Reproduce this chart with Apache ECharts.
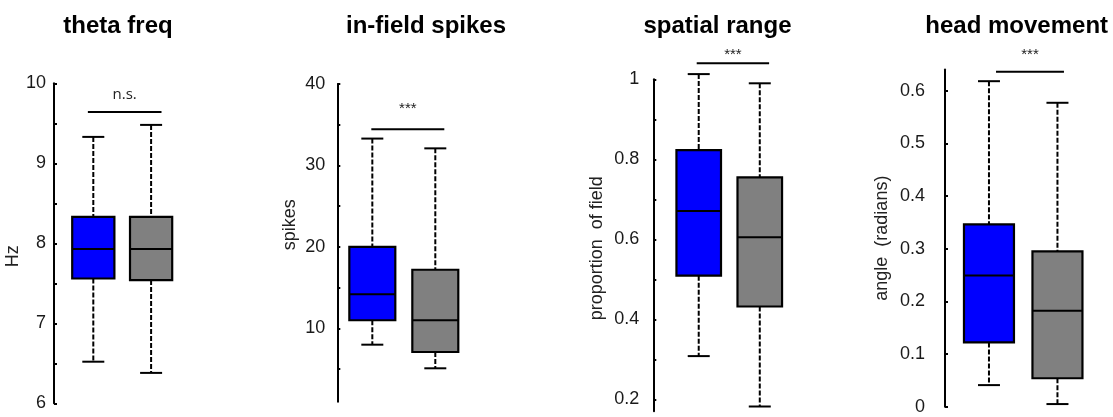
<!DOCTYPE html>
<html><head><meta charset="utf-8">
<script src="https://cdn.jsdelivr.net/npm/echarts@6/dist/echarts.min.js"></script>
<style>html,body{margin:0;padding:0;background:#fff}#c{width:1113px;height:417px}</style>
</head><body><div id="c"></div>
<script>
// ---------- data ----------
const titles = ['theta freq', 'in-field spikes', 'spatial range', 'head movement'];
const yNames = ['Hz', 'spikes', 'proportion  of field', 'angle  (radians)'];
const groupPos = [1, 2];
// [lower whisker, Q1, median, Q3, upper whisker] : group 1 (blue), group 2 (gray)
const thetaFreq     = [[6.52, 7.56, 7.93, 8.33, 9.33], [6.38, 7.54, 7.93, 8.33, 9.48]];
const inFieldSpikes = [[8.0, 11.0, 14.2, 20.0, 33.3], [5.1, 7.1, 11.0, 17.2, 32.1]];
const spatialRange  = [[0.308, 0.509, 0.671, 0.823, 1.013], [0.182, 0.432, 0.605, 0.755, 0.99]];
const headMovement  = [[0.041, 0.122, 0.249, 0.346, 0.618], [0.005, 0.054, 0.182, 0.295, 0.577]];
const sigLabels = ['n.s.', '***', '***', '***'];
const sigLineY  = [9.64, 34.44, 1.04, 0.636];
const sigLabelY = [9.854, 37.3, 1.069, 0.674];
const sigLineX  = [[0.906, 2.18], [0.984, 2.143], [0.967, 2.153], [1.103, 2.095]];
const yMin = [6, 1, 0.17, 0];
const yMax = [10, 40, 1, 0.64];
const yLabelValues = [[6, 7, 8, 9, 10], [10, 20, 30, 40], [0.2, 0.4, 0.6, 0.8, 1], [0, 0.1, 0.2, 0.3, 0.4, 0.5, 0.6]];
const yTickValues = [
  [6, 6.5, 7, 7.5, 8, 8.5, 9, 9.5, 10],
  [5, 10, 15, 20, 25, 30, 35, 40],
  [0.2, 0.3, 0.4, 0.5, 0.6, 0.7, 0.8, 0.9, 1],
  [0, 0.1, 0.2, 0.3, 0.4, 0.5, 0.6]
];
const panels = [thetaFreq, inFieldSpikes, spatialRange, headMovement];

// ---------- layout / style ----------
const grids = [
  {left: 54, top: 83.3, width: 126, height: 320},
  {left: 337.3, top: 84, width: 129.5, height: 317.7},
  {left: 653.3, top: 79.3, width: 137, height: 332},
  {left: 945, top: 69.6, width: 146.7, height: 337.1}
];
const xRange = [[0.32, 2.5], [0.444, 2.5], [0.256, 2.5], [0.358, 2.5]];
const titleCenters = [113, 421, 712.5, 1011.7];
const labelMargin = [8, 12, 14, 20];
const nameGap = [28, 38, 47.5, 54];
const namePad = [[0, 26, 0, 0], [0, 0, 0, 36], [0, 6, 0, 0], [0, 0, 0, 0]];
const groupColors = ['#0000ff', '#808080'];
const BOX_HALF = 0.365;
const CAP_HALF = 11;
const FONT = '"Liberation Sans", Arial, sans-serif';

function renderBox(params, api) {
  const x = api.value(0), lo = api.value(1), q1 = api.value(2), med = api.value(3), q3 = api.value(4), hi = api.value(5);
  const tl = api.coord([x - BOX_HALF, q3]);
  const br = api.coord([x + BOX_HALF, q1]);
  const c = api.coord([x, med]);
  const yHi = api.coord([x, hi])[1], yLo = api.coord([x, lo])[1];
  const cx = c[0];
  const dash = {stroke: '#000', lineWidth: 2, lineDash: [5, 2]};
  const solid = {stroke: '#000', lineWidth: 2};
  return {type: 'group', children: [
    {type: 'line', shape: {x1: cx, y1: yHi, x2: cx, y2: tl[1]}, style: dash},
    {type: 'line', shape: {x1: cx, y1: br[1], x2: cx, y2: yLo}, style: dash},
    {type: 'line', shape: {x1: cx - CAP_HALF, y1: yHi, x2: cx + CAP_HALF, y2: yHi}, style: solid},
    {type: 'line', shape: {x1: cx - CAP_HALF, y1: yLo, x2: cx + CAP_HALF, y2: yLo}, style: solid},
    {type: 'rect', shape: {x: tl[0], y: tl[1], width: br[0] - tl[0], height: br[1] - tl[1]},
      style: {fill: groupColors[params.dataIndex], stroke: '#000', lineWidth: 2.2}},
    {type: 'line', shape: {x1: tl[0], y1: c[1], x2: br[0], y2: c[1]}, style: solid}
  ]};
}

function makeSigRenderer(label) {
  return function (params, api) {
    const x0 = api.value(0), x1 = api.value(1), ly = api.value(2), ty = api.value(3);
    const p0 = api.coord([x0, ly]), p1 = api.coord([x1, ly]);
    const t = api.coord([(x0 + x1) / 2, ty]);
    const isNs = label === 'n.s.';
    return {type: 'group', children: [
      {type: 'line', shape: {x1: p0[0], y1: p0[1], x2: p1[0], y2: p1[1]}, style: {stroke: '#000', lineWidth: 2}},
      {type: 'text', x: t[0], y: t[1] + (isNs ? 0 : 3), style: {
        text: label, fill: '#222', align: 'center', verticalAlign: 'middle',
        font: isNs ? '15px "Open Sans", sans-serif' : '15px ' + FONT}}
    ]};
  };
}

const option = {
  animation: false,
  backgroundColor: '#fff',
  title: titles.map((t, i) => ({
    text: t, left: titleCenters[i], top: 9, textAlign: 'center',
    textStyle: {fontFamily: FONT, fontWeight: 'bold', fontSize: 24, color: '#000'}
  })),
  grid: grids,
  xAxis: grids.map((g, i) => ({
    type: 'value', gridIndex: i, min: xRange[i][0], max: xRange[i][1], show: false
  })),
  yAxis: grids.map((g, i) => ({
    type: 'value', gridIndex: i, min: yMin[i], max: yMax[i],
    name: yNames[i], nameLocation: 'middle', nameGap: nameGap[i],
    nameTextStyle: {fontFamily: FONT, fontSize: 18, color: '#222', padding: namePad[i]},
    axisLine: {show: true, lineStyle: {color: '#000', width: 2}},
    axisTick: {show: true, inside: true, length: 3, customValues: yTickValues[i], lineStyle: {color: '#000', width: 2}},
    axisLabel: {customValues: yLabelValues[i], margin: labelMargin[i], fontFamily: FONT, fontSize: 18, color: '#1a1a1a', showMinLabel: true, showMaxLabel: true},
    splitLine: {show: false}
  })),
  series: []
};

panels.forEach((p, i) => {
  option.series.push({
    type: 'custom', xAxisIndex: i, yAxisIndex: i,
    renderItem: renderBox,
    encode: {x: 0, y: [1, 2, 3, 4, 5]},
    data: groupPos.map((x, g) => [x].concat(p[g]))
  });
  option.series.push({
    type: 'custom', xAxisIndex: i, yAxisIndex: i,
    renderItem: makeSigRenderer(sigLabels[i]),
    encode: {x: [0, 1], y: [2, 3]},
    data: [[sigLineX[i][0], sigLineX[i][1], sigLineY[i], sigLabelY[i]]]
  });
});

const chart = echarts.init(document.getElementById('c'), null, {renderer: 'canvas'});
chart.setOption(option);
</script>
</body></html>
